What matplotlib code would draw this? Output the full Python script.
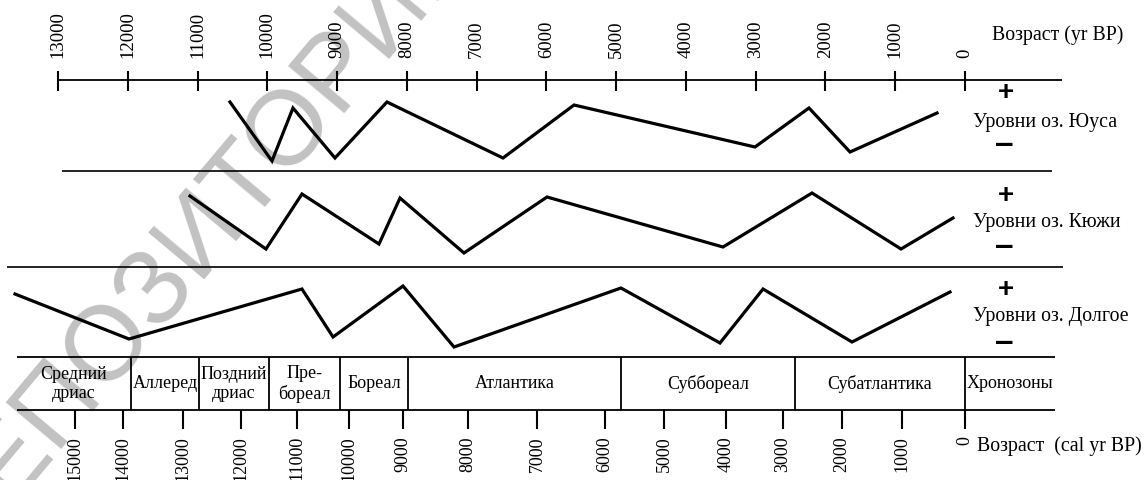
import matplotlib.pyplot as plt

plt.rcParams['font.family'] = ['Liberation Serif', 'DejaVu Serif']

# шкала радиоуглеродного возраста (yr BP)
top_ticks = [13000, 12000, 11000, 10000, 9000, 8000, 7000, 6000, 5000, 4000, 3000, 2000, 1000, 0]

# калиброванная шкала: подписи и их место на шкале yr BP
cal_labels = [15000, 14000, 13000, 12000, 11000, 10000, 9000, 8000, 7000, 6000, 5000, 4000, 3000, 2000, 1000, 0]
cal_pos = [12756, 12068, 11208, 10377, 9574, 8829, 8055, 7123, 6134, 5160, 4314, 3426, 2609, 1763, 903, 0]

# уровни озер (условные единицы)
yuusa_age = [10535, 9933, 9632, 9030, 8285, 6622, 5604, 3010, 2236, 1648, 401]
yuusa_lvl = [69, 10, 63, 13, 69, 13, 66, 24, 63, 19, 58]

kyuzhi_age = [11108, 10019, 9503, 8399, 8098, 7181, 5991, 3469, 2193, 917, 172]
kyuzhi_lvl = [71, 18, 73, 23, 69, 14, 70, 20, 74, 18, 49]

dolgoe_age = [13616, 11982, 9503, 9058, 8055, 7324, 4931, 3512, 2895, 1620, 215]
dolgoe_lvl = [63, 18, 68, 20, 71, 10, 69, 14, 68, 15, 65]

lake_names = ['Уровни оз. Юуса', 'Уровни оз. Кюжи', 'Уровни оз. Долгое']

# хронозоны
zone_names = ['Средний\nдриас', 'Аллеред', 'Поздний\nдриас', 'Пре-\nбореал', 'Бореал',
              'Атлантика', 'Суббореал', 'Субатлантика', 'Хронозоны']
zone_edges = [13588, 11954, 10979, 9976, 8958, 7983, 4931, 2437, 0, -1290]

W, H = 1146, 480
XLIM = (13831, -2594)

fig = plt.figure(figsize=(W / 100, H / 100), dpi=100)

fig.text(200 / W, 1 - 232 / H, 'РЕПОЗИТОРИЙ', rotation=50, fontsize=76, color='#c2c2c2',
         family='Liberation Sans', ha='center', va='center', zorder=-5)

# общая ось в пикселях по вертикали
ax = fig.add_axes([0, 0, 1, 1])
ax.set_xlim(XLIM)
ax.set_ylim(H, 0)
ax.axis('off')

# верхняя шкала
ax.hlines(80, 13000, -1390, color='black', lw=1.3)
ax.vlines(top_ticks, 71, 91, color='black', lw=1.5)
for t in top_ticks:
    ax.text(t, 58, str(t), rotation=90, ha='center', va='bottom', fontsize=13.5)
ax.text(-390, 35, 'Возраст (yr BP)', ha='left', va='center', fontsize=14.3)

# разделители панелей
ax.hlines(171, 12943, -1247, color='black', lw=1.2)
ax.hlines(267, 13731, -1405, color='black', lw=1.2)


def lake_axes(top, bottom):
    a = fig.add_axes([0, 1 - bottom / H, 1, (bottom - top) / H])
    a.set_xlim(XLIM)
    a.set_ylim(0, bottom - top)
    a.axis('off')
    return a


panels = [(80, 171, yuusa_age, yuusa_lvl), (171, 267, kyuzhi_age, kyuzhi_lvl),
          (267, 357, dolgoe_age, dolgoe_lvl)]
sign_y = [(93, 145), (196, 247), (290, 343)]
label_y = [122, 222, 317]
for (top, bottom, age, lvl), name, (py, my), ly in zip(panels, lake_names, sign_y, label_y):
    a = lake_axes(top, bottom)
    a.plot(age, lvl, color='black', lw=2.3, solid_joinstyle='miter')
    ax.text(-590, py, '+', ha='center', va='center', fontsize=20, fontweight='bold',
            family='Liberation Sans')
    ax.text(-565, my, '\u2013', ha='center', va='center', fontsize=24, fontweight='bold',
            family='Liberation Sans')
    ax.text(-110, ly, name, ha='left', va='center', fontsize=14.3)

# таблица хронозон
ax.hlines(357, zone_edges[0], zone_edges[-1], color='black', lw=1.3)
ax.hlines(410, zone_edges[0], zone_edges[-1], color='black', lw=1.3)
ax.vlines(zone_edges[1:-1], 357, 410, color='black', lw=1.3)
for i, name in enumerate(zone_names):
    ax.text((zone_edges[i] + zone_edges[i + 1]) / 2, 384, name, ha='center', va='center',
            fontsize=13, linespacing=1.2)

# нижняя (калиброванная) шкала
ax.vlines(cal_pos, 410, 429, color='black', lw=1.5)
for p, t in zip(cal_pos, cal_labels):
    ax.text(p, 436, str(t), rotation=90, ha='center', va='top', fontsize=13)
ax.text(-170, 446, 'Возраст  (cal yr BP)', ha='left', va='center', fontsize=14.3)

fig.savefig('out.png', dpi=100)
